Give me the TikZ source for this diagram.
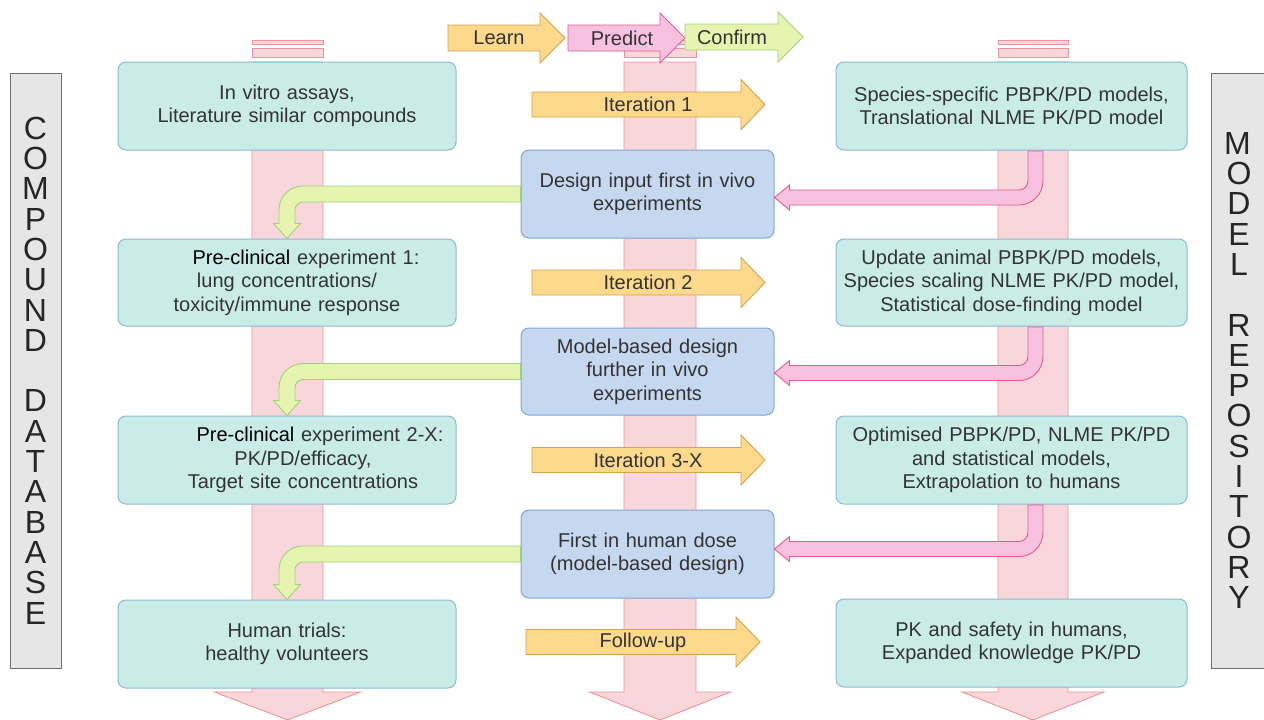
\documentclass[tikz,border=0pt]{standalone}
\usepackage{fontspec}
\setmainfont{Liberation Sans}
\usetikzlibrary{calc}
\definecolor{tealfill}{HTML}{C9EDE6}
\definecolor{tealdraw}{HTML}{8CB9D9}
\definecolor{bluefill}{HTML}{C5D8EF}
\definecolor{bluedraw}{HTML}{7EA7D3}
\definecolor{shaftfill}{HTML}{F9D6D9}
\definecolor{shaftdraw}{HTML}{E8959C}
\definecolor{orfill}{HTML}{FDD98C}
\definecolor{ordraw}{HTML}{D9A04E}
\definecolor{pkfill}{HTML}{F8C1DF}
\definecolor{pkdraw}{HTML}{E35B8D}
\definecolor{grfill}{HTML}{E6F4B0}
\definecolor{grdraw}{HTML}{9ED47B}
\definecolor{sidefill}{HTML}{E6E6E6}
\definecolor{sidedraw}{HTML}{707070}
\definecolor{txtc}{HTML}{333333}
\newcommand{\fs}{\fontsize{20pt}{23.5pt}\selectfont}
\newcommand{\fsbig}{\fontsize{32pt}{30.3pt}\selectfont}
\newcommand{\pc}[1]{\textcolor{black}{#1}}
% block arrow: style, x left, x tip, x head base, y centre, body half, head half
\newcommand{\blockarrow}[7]{\draw[#1] (#2,#5-#6) -- (#4,#5-#6) -- (#4,#5-#7) -- (#3,#5) -- (#4,#5+#7) -- (#4,#5+#6) -- (#2,#5+#6) -- cycle;}
% shaft with bars: x centre, body half, head half
\newcommand{\shaftarrow}[3]{%
  \draw[shaftst] (#1-#2,40) rectangle (#1+#2,44);
  \draw[shaftst] (#1-#2,48) rectangle (#1+#2,57);
  \draw[shaftst] (#1-#2,62) -- (#1+#2,62) -- (#1+#2,692) -- (#1+#3,692) -- (#1,720) -- (#1-#3,692) -- (#1-#2,692) -- cycle;}
% green bend: from middle box #1 to left box #2
\newcommand{\greenbend}[2]{%
  \coordinate (gc) at (#2.north|-#1.west);
  \draw[gbend] ($(#1.west)+(0,-8)$) -- ($(gc)+(16,-8)$) arc[start angle=-90,end angle=-180,radius=24]
    -- ($(#2.north)+(-8,-15)$) -- ++(-5.5,0) -- (#2.north) -- ($(#2.north)+(13.5,-15)$) -- ++(-5.5,0)
    -- ($(gc)+(8,16)$) arc[start angle=180,end angle=270,radius=8] -- ($(#1.west)+(0,8)$) -- cycle;}
% pink bend: from right box #1 to middle box #2, vertical offset #3
\newcommand{\pinkbend}[3]{%
  \coordinate (pa) at (sR|-#1.south);
  \coordinate (pcc) at ($(sR|-#2.east)+(0,#3)$);
  \coordinate (ph) at ($(#2.east)+(0,#3)$);
  \draw[pbend] ($(pa)+(-7.5,0.5)$) -- ($(pa)+(7.5,0.5)$) -- ($(pcc)+(7.5,-16.5)$) arc[start angle=0,end angle=90,radius=24]
    -- ($(ph)+(15,7.5)$) -- ($(ph)+(15,12.5)$) -- (ph) -- ($(ph)+(15,-12.5)$) -- ($(ph)+(15,-7.5)$)
    -- ($(pcc)+(-16.5,-7.5)$) arc[start angle=90,end angle=0,radius=9] -- cycle;}
\begin{document}
\begin{tikzpicture}[x=1pt,y=-1pt,
  tbox/.style={draw=tealdraw, fill=tealfill, rounded corners=8pt, line width=1pt, minimum width=338pt, minimum height=88pt, text width=322pt, align=center, font=\fs, text=txtc, inner sep=0pt},
  rbox/.style={tbox, minimum width=351pt, text width=340pt},
  mbox/.style={draw=bluedraw, fill=bluefill, rounded corners=8pt, line width=1pt, minimum width=253pt, minimum height=88pt, text width=240pt, align=center, font=\fs, text=txtc, inner sep=0pt},
  sidebar/.style={draw=sidedraw, fill=sidefill, line width=0.8pt, minimum width=51pt, minimum height=595pt, align=center, font=\fsbig, text=black!85, inner sep=0pt},
  shaftst/.style={draw=shaftdraw, fill=shaftfill, line width=0.9pt},
  oarrow/.style={draw=ordraw, fill=orfill, line width=0.9pt, line join=miter},
  parrow/.style={draw=pkdraw, fill=pkfill, line width=0.9pt},
  garrow/.style={draw=grdraw, fill=grfill, line width=0.9pt},
  gbend/.style={draw=grdraw, fill=grfill, line width=0.9pt},
  pbend/.style={draw=pkdraw, fill=pkfill, line width=0.9pt},
  txt/.style={font=\fs, text=txtc, inner sep=0pt}]
\useasboundingbox (0,0) rectangle (1264,720);
\clip (0,0) rectangle (1264,720);
\fill[white] (0,0) rectangle (1264,720);
% side bars
\node[sidebar] (cdb) at (35.5,370.5) {C\\O\\M\\P\\O\\U\\N\\D\\~\\D\\A\\T\\A\\B\\A\\S\\E};
\node[sidebar, minimum width=56pt, text width=53pt] (mrep) at (1239,370.5) {\hspace*{-3pt}M\\O\\D\\E\\L\\~\\R\\E\\P\\O\\S\\I\\T\\O\\R\\Y};
% shafts
\coordinate (sL) at (287.5,0);
\coordinate (sM) at (660,0);
\coordinate (sR) at (1035.5,0);
\shaftarrow{287.5}{35.5}{73}
\shaftarrow{660}{36}{70.5}
\shaftarrow{1033}{35}{71}
% left boxes
\node[tbox] (lb1) at (287,106) {In vitro assays,\\Literature similar compounds};
\node[tbox, minimum height=87pt] (lb2) at (287,282.5) {\hspace*{38pt}\pc{Pre-clinical} experiment 1:\\lung concentrations/\\toxicity/immune response};
\node[tbox] (lb3) at (287,460) {\hspace*{66pt}\pc{Pre-clinical} experiment 2-X:\\\hspace*{32pt}PK/PD/efficacy,\\\hspace*{32pt}Target site concentrations};
\node[tbox] (lb4) at (287,644) {Human trials:\\healthy volunteers};
% right boxes
\node[rbox] (rb1) at (1011.5,106) {Species-specific PBPK/PD models,\\Translational NLME PK/PD model};
\node[rbox, minimum height=87pt] (rb2) at (1011.5,282.5) {Update animal PBPK/PD models,\\Species scaling NLME PK/PD model,\\Statistical dose-finding model};
\node[rbox] (rb3) at (1011.5,460) {Optimised PBPK/PD, NLME PK/PD\\and statistical models,\\Extrapolation to humans};
\node[rbox] (rb4) at (1011.5,643) {PK and safety in humans,\\Expanded knowledge PK/PD};
% middle boxes
\node[mbox] (mb1) at (647.5,194) {Design input first in vivo\\experiments};
\node[mbox, minimum height=87pt] (mb2) at (647.5,371.5) {Model-based design\\further in vivo\\experiments};
\node[mbox] (mb3) at (647.5,554) {First in human dose\\(model-based design)};
% top arrows
\blockarrow{oarrow}{448}{565}{540}{38}{13}{25}
\blockarrow{parrow}{568}{685}{660}{38}{13}{25}
\blockarrow{garrow}{685}{803}{778}{37}{13}{25}
\node[txt] (tlearn) at (499,38) {Learn};
\node[txt] (tpred) at (622,38) {Predict};
\node[txt] (tconf) at (732,37) {Confirm};
% iteration arrows
\blockarrow{oarrow}{532}{765}{741}{104.5}{12.5}{25}
\blockarrow{oarrow}{532}{765}{741}{282.5}{12.5}{25}
\blockarrow{oarrow}{532}{765}{741}{460}{12.5}{25}
\blockarrow{oarrow}{526}{760}{736}{642}{12.5}{25}
\node[txt] (it1) at (648,104.5) {Iteration 1};
\node[txt] (it2) at (648,282.5) {Iteration 2};
\node[txt] (it3) at (648,460) {Iteration 3-X};
\node[txt] (fu) at (643,642) {Follow-up};
% bend arrows
\greenbend{mb1}{lb2}
\greenbend{mb2}{lb3}
\greenbend{mb3}{lb4}
\pinkbend{rb1}{mb1}{3.5}
\pinkbend{rb2}{mb2}{1.5}
\pinkbend{rb3}{mb3}{-5}
\end{tikzpicture}
\end{document}
